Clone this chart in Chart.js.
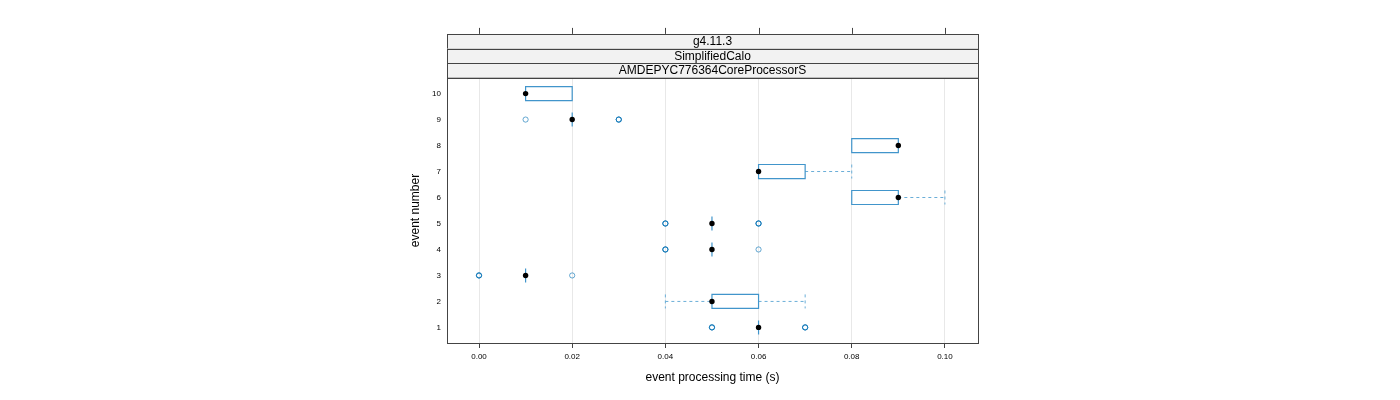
<!DOCTYPE html>
<html>
<head>
<meta charset="utf-8">
<script src="https://cdn.jsdelivr.net/npm/chart.js@4/dist/chart.umd.min.js"></script>
<style>
  html, body { margin: 0; padding: 0; background: #fff; }
  #wrap { width: 1400px; height: 400px; }
</style>
</head>
<body>
<div id="wrap"><canvas id="bwChart"></canvas></div>
<script>
// data
const events = [1, 2, 3, 4, 5, 6, 7, 8, 9, 10];
const medians = [0.06, 0.05, 0.01, 0.05, 0.05, 0.09, 0.06, 0.09, 0.02, 0.01];
const q1 = [0.06, 0.05, 0.01, 0.05, 0.05, 0.08, 0.06, 0.08, 0.02, 0.01];
const q3 = [0.06, 0.06, 0.01, 0.05, 0.05, 0.09, 0.07, 0.09, 0.02, 0.02];
const whiskLo = [0.06, 0.04, 0.01, 0.05, 0.05, 0.08, 0.06, 0.08, 0.02, 0.01];
const whiskHi = [0.06, 0.07, 0.01, 0.05, 0.05, 0.10, 0.08, 0.09, 0.02, 0.02];
// outliers: [time, event]; repeated values overlap and look darker
const outliers = [
  [0.05, 1], [0.05, 1], [0.05, 1], [0.07, 1], [0.07, 1], [0.07, 1],
  [0.00, 3], [0.00, 3], [0.00, 3], [0.02, 3],
  [0.04, 4], [0.04, 4], [0.04, 4], [0.06, 4],
  [0.04, 5], [0.04, 5], [0.04, 5], [0.06, 5], [0.06, 5], [0.06, 5],
  [0.01, 9], [0.03, 9], [0.03, 9], [0.03, 9]
];
const xTicks = [0, 0.02, 0.04, 0.06, 0.08, 0.10];
const strips = ["g4.11.3", "SimplifiedCalo", "AMDEPYC776364CoreProcessorS"];

const boxCol = "#4195cb";
const whiskCol = "#6aaed8";
const frameCol = "#444444";

// boxes, whiskers, strips, frame
const boxPlugin = {
  id: "boxPlugin",
  beforeDatasetsDraw(chart) {
    const ctx = chart.ctx;
    const xs = chart.scales.x, ys = chart.scales.y;
    ctx.save();
    events.forEach((e, i) => {
      const yc = ys.getPixelForValue(e);
      const yt = ys.getPixelForValue(e + 0.27);
      const yb = ys.getPixelForValue(e - 0.27);
      const xl = xs.getPixelForValue(q1[i]);
      const xr = xs.getPixelForValue(q3[i]);
      const wl = xs.getPixelForValue(whiskLo[i]);
      const wh = xs.getPixelForValue(whiskHi[i]);
      // whiskers
      ctx.strokeStyle = whiskCol;
      ctx.lineWidth = 1;
      ctx.setLineDash([3, 3]);
      if (wl < xl) {
        ctx.beginPath();
        ctx.moveTo(wl, yc); ctx.lineTo(xl, yc);
        ctx.moveTo(wl, yt); ctx.lineTo(wl, yb);
        ctx.stroke();
      }
      if (wh > xr) {
        ctx.beginPath();
        ctx.moveTo(xr, yc); ctx.lineTo(wh, yc);
        ctx.moveTo(wh, yt); ctx.lineTo(wh, yb);
        ctx.stroke();
      }
      ctx.setLineDash([]);
      // box (a plain vertical line when q1 == q3)
      ctx.strokeStyle = boxCol;
      ctx.lineWidth = 1.2;
      ctx.beginPath();
      ctx.rect(xl, yt, xr - xl, yb - yt);
      ctx.stroke();
    });
    ctx.restore();
  },
  afterDraw(chart) {
    const ctx = chart.ctx;
    const a = chart.chartArea;
    const xs = chart.scales.x;
    ctx.save();
    // panel frame
    ctx.strokeStyle = frameCol;
    ctx.lineWidth = 1;
    ctx.strokeRect(a.left + 0.5, a.top + 0.5, a.right - a.left, a.bottom - a.top);
    // strips
    const sh = 14.7;
    let y = a.top - sh * strips.length;
    ctx.font = "12px 'Liberation Sans', Arial, sans-serif";
    ctx.textAlign = "center";
    ctx.textBaseline = "middle";
    strips.forEach((s) => {
      ctx.fillStyle = "#f2f2f2";
      ctx.fillRect(a.left, y, a.right - a.left, sh);
      ctx.strokeStyle = frameCol;
      ctx.strokeRect(a.left + 0.5, Math.round(y) + 0.5, a.right - a.left, sh);
      ctx.fillStyle = "#000";
      ctx.fillText(s, (a.left + a.right) / 2, y + sh / 2 + 0.5);
      y += sh;
    });
    // top tick marks
    const topY = a.top - sh * strips.length;
    ctx.strokeStyle = frameCol;
    ctx.beginPath();
    xTicks.forEach((v) => {
      const px = Math.round(xs.getPixelForValue(v)) + 0.5;
      ctx.moveTo(px, topY);
      ctx.lineTo(px, topY - 6);
    });
    ctx.stroke();
    ctx.restore();
  }
};

new Chart(document.getElementById("bwChart"), {
  type: "scatter",
  data: {
    datasets: [
      {
        label: "median",
        data: events.map((e, i) => ({ x: medians[i], y: e })),
        backgroundColor: "#000",
        borderColor: "#000",
        pointRadius: 2.7,
        pointBorderWidth: 0,
      },
      {
        label: "outliers",
        data: outliers.map((p) => ({ x: p[0], y: p[1] })),
        backgroundColor: "rgba(0,0,0,0)",
        borderColor: "rgba(0,112,180,0.6)",
        pointRadius: 2.6,
        pointBorderWidth: 1,
      },
    ],
  },
  options: {
    responsive: true,
    maintainAspectRatio: false,
    animation: false,
    layout: { padding: { left: 400, top: 78, right: 422, bottom: 0 } },
    plugins: { legend: { display: false }, tooltip: { enabled: false } },
    scales: {
      x: {
        type: "linear",
        min: -0.00687,
        max: 0.1071,
        afterBuildTicks: (s) => { s.ticks = xTicks.map((v) => ({ value: v })); },
        afterFit: (s) => { s.height = 57; },
        ticks: {
          callback: (v) => v.toFixed(2),
          font: { family: "'Liberation Sans', Arial, sans-serif", size: 8 },
          color: "#000",
          padding: 4,
          maxRotation: 0,
        },
        grid: { color: "#e8e8e8", tickColor: frameCol, tickLength: 5 },
        border: { color: frameCol },
        title: {
          display: true,
          text: "event processing time (s)",
          color: "#000",
          font: { family: "'Liberation Sans', Arial, sans-serif", size: 12 },
          padding: { top: 0, bottom: 15 },
        },
      },
      y: {
        type: "linear",
        min: 0.4,
        max: 10.6,
        afterBuildTicks: (s) => { s.ticks = events.map((v) => ({ value: v })); },
        afterFit: (s) => { s.width = 47; },
        ticks: {
          font: { family: "'Liberation Sans', Arial, sans-serif", size: 8 },
          color: "#000",
          padding: 6,
        },
        grid: { display: false, drawTicks: false },
        border: { display: false },
        title: {
          display: true,
          text: "event number",
          color: "#000",
          font: { family: "'Liberation Sans', Arial, sans-serif", size: 12 },
          padding: { top: 8, bottom: 0 },
        },
      },
    },
  },
  plugins: [boxPlugin],
});
</script>
</body>
</html>
